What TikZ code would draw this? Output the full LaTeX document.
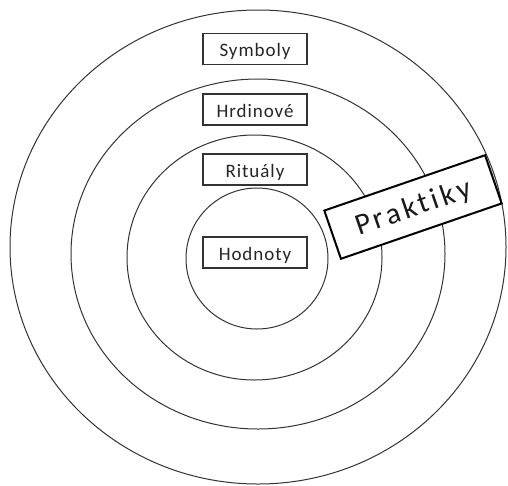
\documentclass[tikz,border=0pt]{standalone}
\usepackage{fontspec}
\setmainfont{Carlito}
\newfontfamily\labelfont[LetterSpace=5,Ligatures={NoCommon}]{Carlito}
\newfontfamily\bigfont[LetterSpace=11,Ligatures={NoCommon}]{Carlito}
\begin{document}
\begin{tikzpicture}[x=1pt,y=-1pt,
  ring/.style={draw=black!80, line width=1pt},
  layer/.style={draw=black!80, line width=1.3pt, fill=white,
    minimum width=104pt, minimum height=31pt, inner sep=0pt,
    text height=15.5pt, text depth=0pt, text=black!85,
    font=\labelfont\fontsize{19}{22}\selectfont},
  practice/.style={draw=black, line width=2pt, fill=white,
    minimum width=170pt, minimum height=51pt, inner sep=0pt,
    rotate=19, text height=19pt, text depth=0pt, text=black!90,
    font=\bigfont\fontsize{30}{34}\selectfont}]
\useasboundingbox (0,0) rectangle (508,485);
\fill[white] (0,0) rectangle (508,485);

% concentric layers of the onion
\draw[ring] (258,247) ellipse [x radius=248pt, y radius=237pt];
\draw[ring] (258,254) ellipse [x radius=187pt, y radius=175pt];
\draw[ring] (254.5,257.5) ellipse [x radius=127.5pt, y radius=122.5pt];
\draw[ring] (257,258.5) ellipse [x radius=71pt, y radius=70.5pt];

% layer labels
\node[layer] (symboly)   at (255,48.8)  {Symboly};
\node[layer] (hrdinove)  at (255,109.5) {Hrdinové};
\node[layer] (ritualy)   at (255,169.5) {Rituály};
\node[layer] (hodnoty)   at (255,252.5) {Hodnoty};

% practices cut across the outer layers
\node[practice] (praktiky) at (413,207) {Praktiky};
\end{tikzpicture}
\end{document}
